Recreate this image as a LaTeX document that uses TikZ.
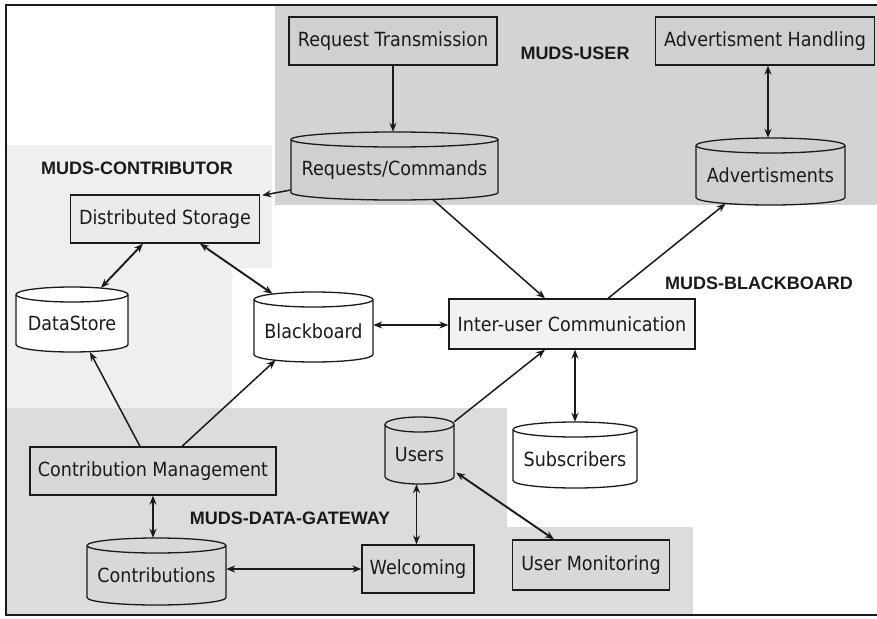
\documentclass[tikz,border=0pt]{standalone}
\usepackage{fontspec}
\setmainfont{DejaVu Sans}[FakeStretch=0.9]
\newfontfamily\lblfont{Liberation Sans}
\usetikzlibrary{arrows.meta,calc}
\pgfdeclarelayer{regions}
\pgfdeclarelayer{cyls}
\pgfsetlayers{regions,cyls,main}
\definecolor{inkc}{HTML}{1A1A1A}
\definecolor{userbg}{HTML}{D3D3D3}
\definecolor{contribbg}{HTML}{EFEFEF}
\definecolor{gatebg}{HTML}{DCDCDC}
\definecolor{boxA}{HTML}{D0D0D0}
\definecolor{boxL}{HTML}{EBEBEB}
\definecolor{boxI}{HTML}{F2F2F2}
\definecolor{boxB}{HTML}{D8D8D8}
\tikzset{
  box/.style={draw=inkc, line width=1.3pt, inner sep=0pt, minimum height=48pt,
    font=\fontsize{19.5}{22}\selectfont, text=inkc},
  dbshape/.style={draw=none, inner sep=0pt},
  dbtext/.style={inner sep=0pt, font=\fontsize{19.5}{22}\selectfont, text=inkc},
  dbline/.style={draw=inkc, line width=1.3pt},
  lbl/.style={font=\lblfont\bfseries\fontsize{18}{20}\selectfont, text=inkc, inner sep=0pt},
  one/.style={draw=inkc, line width=1.5pt, -{Stealth[length=9pt,width=7pt]}},
  two/.style={draw=inkc, line width=1.9pt, {Stealth[length=9pt,width=7pt]}-{Stealth[length=9pt,width=7pt]}},
}
% name, cx, cy, w, h, fill, text
\newcommand\dbnode[7]{%
  \begin{pgfonlayer}{cyls}
    \filldraw[dbline, fill=#6] ({#2-#4/2},{#3-#5/2+7.5}) -- ({#2-#4/2},{#3+#5/2-7.5})
      arc[start angle=180, end angle=360, x radius={#4/2*1pt}, y radius=7.5pt]
      -- ({#2+#4/2},{#3-#5/2+7.5})
      arc[start angle=0, end angle=180, x radius={#4/2*1pt}, y radius=7.5pt] -- cycle;
    \draw[dbline] ({#2-#4/2},{#3-#5/2+7.5})
      arc[start angle=180, end angle=360, x radius={#4/2*1pt}, y radius=7.5pt];
  \end{pgfonlayer}
  \node[dbshape, minimum width=#4pt, minimum height=#5pt] (#1) at (#2,#3) {};
  \node[dbtext] (#1t) at ($(#1.center)+(0,4)$) {#7};
}
\begin{document}
\begin{tikzpicture}[x=1pt,y=-1pt]
\useasboundingbox (0,0) rectangle (877,618);
\begin{pgfonlayer}{regions}
  \fill[white] (0,0) rectangle (877,618);
  \fill[userbg] (275,5) rectangle (877,205);
  \fill[contribbg] (7,145) -- (272,145) -- (272,268) -- (232,268) -- (232,408) -- (7,408) -- cycle;
  \fill[gatebg] (7,408) rectangle (507,614);
  \fill[gatebg] (507,527) rectangle (693,614);
\end{pgfonlayer}
\draw[inkc, line width=1.8pt] (879,5) -- (6,5) -- (6,615) -- (879,615);

% rectangles
\node[box, fill=boxA, minimum width=208pt] (rt) at (393,41) {Request Transmission};
\node[box, fill=boxA, minimum width=219pt] (ah) at (765,41) {Advertisment Handling};
\node[box, fill=boxL, minimum width=189pt] (ds) at (165,219) {Distributed Storage};
\node[box, fill=boxI, minimum width=246pt, minimum height=50pt] (iu) at (572,324) {Inter-user Communication};
\node[box, fill=boxB, minimum width=246pt] (cm) at (153,471) {Contribution Management};
\node[box, fill=boxB, minimum width=112pt] (wel) at (418,569) {Welcoming};
\node[box, fill=boxB, minimum width=157pt, minimum height=50pt] (um) at (591,565) {User Monitoring};

% cylinders
\dbnode{rc}{394.5}{166}{207}{68}{boxA}{Requests/Commands}
\dbnode{adv}{770.5}{171.5}{149}{67}{boxA}{Advertisments}
\dbnode{dst}{72}{319.5}{112}{65}{white}{DataStore}
\dbnode{bb}{313.5}{327}{119}{70}{white}{Blackboard}
\dbnode{users}{419.5}{450.5}{69}{67}{boxB}{Users}
\dbnode{sub}{575}{455}{124}{66}{white}{Subscribers}
\dbnode{con}{156.5}{571.5}{139}{67}{boxB}{Contributions}

% labels
\node[lbl] (lu) at (575,53) {MUDS-USER};
\node[lbl] (lc) at (137,168) {MUDS-CONTRIBUTOR};
\node[lbl] (lb) at (759,283) {MUDS-BLACKBOARD};
\node[lbl] (lg) at (290,518) {MUDS-DATA-GATEWAY};

% connectors
\draw[one] (rt.south) -- (rt.south |- rc.north);
\draw[one] ([yshift=-24pt]rc.west) -- ([xshift=2pt,yshift=-1pt]ds.north east);
\draw[one] ([xshift=38pt,yshift=1pt]rc.south) -- ([xshift=-27pt]iu.north);
\draw[one] ([xshift=36pt]iu.north) -- ([xshift=-45pt,yshift=1.5pt]adv.south);
\draw[two] ([xshift=3pt]ah.south) -- ([xshift=-2.5pt]adv.north);
\draw[two] ([xshift=-22pt]ds.south) -- ([xshift=29pt,yshift=-1pt]dst.north);
\draw[two] ([xshift=35pt]ds.south) -- ([xshift=-41pt,yshift=-2pt]bb.north);
\draw[two] ([yshift=2pt]bb.east) -- ([yshift=-1pt]iu.west);
\draw[one] ([xshift=-13pt]cm.north) -- ([xshift=18pt]dst.south);
\draw[one] ([xshift=29pt]cm.north) -- ([xshift=-38pt,yshift=2pt]bb.south);
\draw[two, line width=2.4pt] (cm.south) -- (cm.south |- con.north);
\draw[two] (con.east |- wel.west) -- (wel.west);
\draw[two] ([xshift=-3pt]users.south) -- ([xshift=-1.5pt]wel.north);
\draw[one] ([yshift=-5pt]users.north east) -- ([xshift=-27pt]iu.south);
\draw[two] ([xshift=2pt,yshift=-22pt]users.east) -- ([xshift=-37pt]um.north);
\draw[two] (iu.south -| sub.north) -- (sub.north);
\end{tikzpicture}
\end{document}
